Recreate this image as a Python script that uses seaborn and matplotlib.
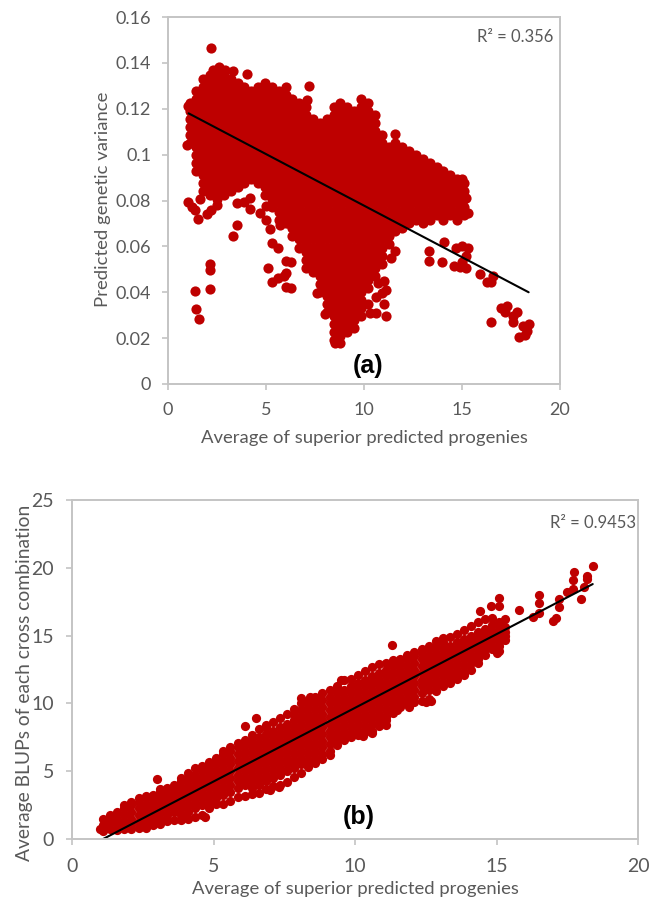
import pandas as pd
import matplotlib
matplotlib.use('Agg')
import matplotlib.pyplot as plt
import seaborn as sns

# panel (a): the cloud is read column by column off the picture
a_col_x = [1.1, 1.45, 1.8, 2.15, 2.5, 2.85, 3.2, 3.55, 3.9, 4.25, 4.6, 4.95, 5.3, 5.65, 6.0, 6.35, 6.7, 7.05, 7.4, 7.75,
           8.1, 8.45, 8.8, 9.15, 9.5, 9.85, 10.2, 10.55, 10.9, 11.25, 11.6, 11.95, 12.3, 12.65, 13.0, 13.35, 13.7, 14.05, 14.4, 14.75, 15.1]
a_col_y = [
    [.105, .1085, .112, .1155, .119, .1225],
    [.0927, .0962, .0997, .1032, .1067, .1102, .1137, .1172, .1207, .1242, .1277],
    [.084, .0875, .091, .0945, .098, .1015, .105, .1085, .112, .1155, .119, .1225, .126, .1295, .133],
    [.0822, .0857, .0892, .0927, .0962, .0997, .1032, .1067, .1102, .1137, .1172, .1207, .1242, .1277, .1312, .1347],
    [.0805, .084, .0875, .091, .0945, .098, .1015, .105, .1085, .112, .1155, .119, .1225, .126, .1295, .133, .1365],
    [.0822, .0857, .0892, .0927, .0962, .0997, .1032, .1067, .1102, .1137, .1172, .1207, .1242, .1277, .1312, .1347],
    [.084, .0875, .091, .0945, .098, .1015, .105, .1085, .112, .1155, .119, .1225, .126, .1295, .133],
    [.0857, .0892, .0927, .0962, .0997, .1032, .1067, .1102, .1137, .1172, .1207, .1242, .1277, .1312],
    [.0875, .091, .0945, .098, .1015, .105, .1085, .112, .1155, .119, .1225, .126, .1295],
    [.0892, .0927, .0962, .0997, .1032, .1067, .1102, .1137, .1172, .1207, .1242, .1277],
    [.0875, .091, .0945, .098, .1015, .105, .1085, .112, .1155, .119, .1225, .126, .1295],
    [.0822, .0857, .0892, .0927, .0962, .0997, .1032, .1067, .1102, .1137, .1172, .1207, .1242, .1277, .1312],
    [.077, .0805, .084, .0875, .091, .0945, .098, .1015, .105, .1085, .112, .1155, .119, .1225, .126, .1295],
    [.0717, .0752, .0787, .0822, .0857, .0892, .0927, .0962, .0997, .1032, .1067, .1102, .1137, .1172, .1207, .1242, .1277],
    [.07, .0735, .077, .0805, .084, .0875, .091, .0945, .098, .1015, .105, .1085, .112, .1155, .119, .1225, .126, .1295],
    [.0647, .0682, .0717, .0752, .0787, .0822, .0857, .0892, .0927, .0962, .0997, .1032, .1067, .1102, .1137, .1172, .1207, .1242],
    [.0595, .063, .0665, .07, .0735, .077, .0805, .084, .0875, .091, .0945, .098, .1015, .105, .1085, .112, .1155, .119, .1225],
    [.0507, .0542, .0577, .0612, .0647, .0682, .0717, .0752, .0787, .0822, .0857, .0892, .0927, .0962, .0997, .1032, .1067, .1102, .1137, .1172, .1207],
    [.049, .0525, .056, .0595, .063, .0665, .07, .0735, .077, .0805, .084, .0875, .091, .0945, .098, .1015, .105, .1085, .112, .1155],
    [.0402, .0437, .0472, .0507, .0542, .0577, .0612, .0647, .0682, .0717, .0752, .0787, .0822, .0857, .0892, .0927, .0962, .0997, .1032, .1067, .1102, .1137],
    [.0315, .035, .0385, .042, .0455, .049, .0525, .056, .0595, .063, .0665, .07, .0735, .077, .0805, .084, .0875, .091, .0945, .098, .1015, .105, .1085, .112, .1155],
    [.0192, .0227, .0262, .0297, .0332, .0367, .0402, .0437, .0472, .0507, .0542, .0577, .0612, .0647, .0682, .0717, .0752, .0787, .0822, .0857, .0892, .0927, .0962, .0997, .1032, .1067, .1102, .1137, .1172, .1207],
    [.021, .0245, .028, .0315, .035, .0385, .042, .0455, .049, .0525, .056, .0595, .063, .0665, .07, .0735, .077, .0805, .084, .0875, .091, .0945, .098, .1015, .105, .1085, .112, .1155, .119, .1225],
    [.0227, .0262, .0297, .0332, .0367, .0402, .0437, .0472, .0507, .0542, .0577, .0612, .0647, .0682, .0717, .0752, .0787, .0822, .0857, .0892, .0927, .0962, .0997, .1032, .1067, .1102, .1137, .1172, .1207],
    [.0245, .028, .0315, .035, .0385, .042, .0455, .049, .0525, .056, .0595, .063, .0665, .07, .0735, .077, .0805, .084, .0875, .091, .0945, .098, .1015, .105, .1085, .112, .1155, .119],
    [.0297, .0332, .0367, .0402, .0437, .0472, .0507, .0542, .0577, .0612, .0647, .0682, .0717, .0752, .0787, .0822, .0857, .0892, .0927, .0962, .0997, .1032, .1067, .1102, .1137, .1172, .1207, .1242],
    [.042, .0455, .049, .0525, .056, .0595, .063, .0665, .07, .0735, .077, .0805, .084, .0875, .091, .0945, .098, .1015, .105, .1085, .112, .1155, .119, .1225],
    [.0472, .0507, .0542, .0577, .0612, .0647, .0682, .0717, .0752, .0787, .0822, .0857, .0892, .0927, .0962, .0997, .1032, .1067, .1102, .1137, .1172],
    [.0525, .056, .0595, .063, .0665, .07, .0735, .077, .0805, .084, .0875, .091, .0945, .098, .1015, .105, .1085],
    [.0612, .0647, .0682, .0717, .0752, .0787, .0822, .0857, .0892, .0927, .0962, .0997, .1032],
    [.0665, .07, .0735, .077, .0805, .084, .0875, .091, .0945, .098, .1015, .105],
    [.0682, .0717, .0752, .0787, .0822, .0857, .0892, .0927, .0962, .0997, .1032],
    [.07, .0735, .077, .0805, .084, .0875, .091, .0945, .098, .1015],
    [.0717, .0752, .0787, .0822, .0857, .0892, .0927, .0962, .0997],
    [.07, .0735, .077, .0805, .084, .0875, .091, .0945, .098],
    [.0717, .0752, .0787, .0822, .0857, .0892, .0927, .0962],
    [.0735, .077, .0805, .084, .0875, .091, .0945],
    [.0717, .0752, .0787, .0822, .0857, .0892, .0927],
    [.0735, .077, .0805, .084, .0875, .091],
    [.0717, .0752, .0787, .0822, .0857, .0892],
    [.0735, .077, .0805, .084, .0875],
]
# scattered points around the edge of the cloud
a_out_x = [2.2, 2.3, 2.6, 2.9, 3.3, 4.03, 7.18, 7.1, 1.0, 0.97, 1.0, 1.2, 1.4, 1.55, 1.65, 2.0, 2.2, 2.5, 3.5, 3.9, 4.2, 4.2,
           3.5, 3.3, 2.15, 2.15, 2.15, 1.4, 1.45, 1.6, 5.1, 5.3, 5.6, 5.9, 6.0, 6.0, 6.3, 6.0, 6.3, 5.3, 5.6, 5.2, 5.0, 4.7, 5.0, 5.7, 6.1,
           7.6, 7.9, 8.0, 10.2, 10.3, 10.6, 11.1, 11.0, 10.6, 10.9, 11.1, 11.0, 10.7, 11.4, 11.6, 11.6, 8.5, 8.8,
           13.3, 13.3, 14.0, 14.1, 14.6, 14.7, 15.0, 15.3, 15.2, 15.0, 15.2, 14.9, 15.9, 16.3, 16.5, 16.6, 16.5,
           17.0, 17.2, 17.3, 17.6, 17.6, 17.8, 18.1, 18.4, 17.9, 18.2, 18.3, 15.0, 15.2, 15.3]
a_out_y = [.1465, .137, .138, .137, .1365, .1353, .130, .124, .121, .104, .0795, .077, .076, .072, .0805, .074, .076, .078, .0788, .0795, .081, .0765,
           .0695, .0645, .0525, .0495, .0415, .0405, .0325, .0285, .0505, .0445, .046, .047, .0485, .0425, .042, .0535, .053, .0615, .0595, .0675, .0715, .0745, .0775, .0695, .07,
           .0395, .042, .0305, .035, .031, .031, .0295, .035, .038, .0395, .041, .045, .044, .055, .058, .109, .018, .018,
           .058, .0535, .053, .062, .0515, .0595, .06, .0595, .056, .053, .0505, .051, .048, .0445, .0445, .047, .027,
           .033, .0315, .034, .0295, .027, .0315, .0255, .0262, .0205, .0215, .023, .0895, .081, .0745]
a_line_x = [1.05, 18.4]
a_line_y = [.118, .040]
a_yticks = [0, .02, .04, .06, .08, .1, .12, .14, .16]
a_ylabels = ['0', '0.02', '0.04', '0.06', '0.08', '0.1', '0.12', '0.14', '0.16']

# panel (b)
b_col_x = [1.1, 1.35, 1.6, 1.85, 2.1, 2.35, 2.6, 2.85, 3.1, 3.35, 3.6, 3.85, 4.1, 4.35, 4.6, 4.85, 5.1, 5.35, 5.6, 5.85,
           6.1, 6.35, 6.6, 6.85, 7.1, 7.35, 7.6, 7.85, 8.1, 8.35, 8.6, 8.85, 9.1, 9.35, 9.6, 9.85, 10.1, 10.35, 10.6, 10.85,
           11.1, 11.35, 11.6, 11.85, 12.1, 12.35, 12.6, 12.85, 13.1, 13.35, 13.6, 13.85, 14.1, 14.35, 14.6, 14.85, 15.1, 15.3]
b_col_y = [
    [.6, 1, 1.5],
    [.75, 1.25, 1.75],
    [.7, 1, 1.5, 2],
    [.75, 1.25, 1.75, 2.25, 2.5],
    [.75, 1, 1.5, 2, 2.5, 2.7],
    [.8, 1.25, 1.75, 2.25, 2.75, 3],
    [.8, 1, 1.5, 2, 2.5, 3, 3.2],
    [1, 1.25, 1.75, 2.25, 2.75, 3.25],
    [1.1, 1.5, 2, 2.5, 3, 3.5, 3.7],
    [1.3, 1.75, 2.25, 2.75, 3.25, 3.75],
    [1.4, 2, 2.5, 3, 3.5, 4],
    [1.4, 1.75, 2.25, 2.75, 3.25, 3.75, 4.25, 4.5],
    [1.5, 2, 2.5, 3, 3.5, 4, 4.5, 4.9],
    [1.6, 2.25, 2.75, 3.25, 3.75, 4.25, 4.75, 5.2],
    [1.8, 2.5, 3, 3.5, 4, 4.5, 5, 5.4],
    [2.3, 2.75, 3.25, 3.75, 4.25, 4.75, 5.25, 5.7],
    [2.6, 3, 3.5, 4, 4.5, 5, 5.5, 6],
    [2.6, 3.25, 3.75, 4.25, 4.75, 5.25, 5.75, 6.25, 6.5],
    [2.8, 3.5, 4, 4.5, 5, 5.5, 6, 6.5, 6.8],
    [3.1, 3.75, 4.25, 4.75, 5.25, 5.75, 6.25, 6.75, 7.1],
    [3.2, 4, 4.5, 5, 5.5, 6, 6.5, 7, 7.3],
    [3.3, 3.75, 4.25, 4.75, 5.25, 5.75, 6.25, 6.75, 7.25, 7.7],
    [3.4, 4, 4.5, 5, 5.5, 6, 6.5, 7, 7.5, 8.1],
    [3.7, 4.25, 4.75, 5.25, 5.75, 6.25, 6.75, 7.25, 7.75, 8.25, 8.4],
    [3.9, 4.5, 5, 5.5, 6, 6.5, 7, 7.5, 8, 8.6],
    [4, 4.75, 5.25, 5.75, 6.25, 6.75, 7.25, 7.75, 8.25, 8.9],
    [4.2, 5, 5.5, 6, 6.5, 7, 7.5, 8, 8.5, 9.2],
    [4.6, 5.25, 5.75, 6.25, 6.75, 7.25, 7.75, 8.25, 8.75, 9.25, 9.6],
    [4.9, 5.5, 6, 6.5, 7, 7.5, 8, 8.5, 9, 9.5, 10],
    [5.3, 5.75, 6.25, 6.75, 7.25, 7.75, 8.25, 8.75, 9.25, 9.75, 10.2],
    [5.6, 6, 6.5, 7, 7.5, 8, 8.5, 9, 9.5, 10, 10.5],
    [5.9, 6.25, 6.75, 7.25, 7.75, 8.25, 8.75, 9.25, 9.75, 10.25, 10.8],
    [6.2, 6.5, 7, 7.5, 8, 8.5, 9, 9.5, 10, 10.5, 11],
    [6.9, 7.25, 7.75, 8.25, 8.75, 9.25, 9.75, 10.25, 10.75, 11.3],
    [7.3, 7.5, 8, 8.5, 9, 9.5, 10, 10.5, 11, 11.7],
    [7.5, 7.75, 8.25, 8.75, 9.25, 9.75, 10.25, 10.75, 11.25, 11.8],
    [7.7, 8, 8.5, 9, 9.5, 10, 10.5, 11, 11.5, 12.1],
    [7.9, 8.25, 8.75, 9.25, 9.75, 10.25, 10.75, 11.25, 11.75, 12.4],
    [8, 8.5, 9, 9.5, 10, 10.5, 11, 11.5, 12, 12.7],
    [8.3, 8.75, 9.25, 9.75, 10.25, 10.75, 11.25, 11.75, 12.25, 12.9],
    [8.8, 9, 9.5, 10, 10.5, 11, 11.5, 12, 12.5, 13],
    [9.3, 9.75, 10.25, 10.75, 11.25, 11.75, 12.25, 12.75, 13.2],
    [9.7, 10, 10.5, 11, 11.5, 12, 12.5, 13, 13.3],
    [10, 10.25, 10.75, 11.25, 11.75, 12.25, 12.75, 13.25, 13.6],
    [10.1, 10.5, 11, 11.5, 12, 12.5, 13, 13.5, 13.8],
    [10.2, 10.75, 11.25, 11.75, 12.25, 12.75, 13.25, 13.75, 14],
    [10.3, 11, 11.5, 12, 12.5, 13, 13.5, 14, 14.2],
    [10.9, 11.25, 11.75, 12.25, 12.75, 13.25, 13.75, 14.25, 14.6],
    [11.3, 11.5, 12, 12.5, 13, 13.5, 14, 14.5, 14.8],
    [11.5, 11.75, 12.25, 12.75, 13.25, 13.75, 14.25, 14.9],
    [11.8, 12, 12.5, 13, 13.5, 14, 14.5, 15.1],
    [12.1, 12.25, 12.75, 13.25, 13.75, 14.25, 14.75, 15.4],
    [12.5, 13, 13.5, 14, 14.5, 15, 15.7],
    [13, 13.25, 13.75, 14.25, 14.75, 15.25, 16],
    [13.6, 14, 14.5, 15, 15.5, 16.2],
    [14, 14.25, 14.75, 15.25, 15.75, 16.3],
    [14.2, 14.5, 15, 15.5, 16],
    [14.7, 15.25, 15.6],
]
b_out_x = [1.0, 2.99, 11.3, 15.1, 15.1, 14.8, 14.4, 15.3, 15.8, 16.3, 16.5, 16.5, 16.5, 17.0, 17.1, 17.2, 17.2, 17.5, 17.7, 17.7, 17.75,
           18.0, 18.1, 18.2, 18.2, 18.4, 15.0, 15.1, 15.3, 4.7, 7.0, 7.3, 10.3, 10.6, 11.1, 11.5, 11.9, 12.5, 12.7, 6.5, 6.1, 8.1, 8.4, 9.5]
b_out_y = [.75, 4.39, 14.33, 17.8, 17.2, 17.2, 16.8, 16.2, 16.9, 16.4, 16.7, 17.4, 18.0, 16.1, 16.3, 17.1, 17.7, 18.2, 18.4, 19.1, 19.7,
           17.7, 18.6, 19.2, 19.4, 20.1, 13.7, 13.9, 15.0, 1.6, 3.6, 3.8, 7.6, 7.8, 8.4, 9.5, 9.7, 10.1, 10.2, 8.9, 8.3, 10.4, 10.5, 11.7]
b_line_x = [1.1, 18.4]
b_line_y = [0, 18.8]
b_yticks = [0, 5, 10, 15, 20, 25]

x_ticks = [0, 5, 10, 15, 20]
x_title = 'Average of superior predicted progenies'

RED = '#BE0000'
GREY = '#595959'
W, H = 651, 907

sns.set_theme(style='white')
plt.rcParams['font.family'] = ['Lato', 'DejaVu Sans']


def to_frame(col_x, col_y, out_x, out_y):
    xs, ys = [], []
    for x, col in zip(col_x, col_y):
        xs += [x] * len(col)
        ys += col
    return pd.DataFrame({'x': xs + out_x, 'y': ys + out_y})


def box(fig, left, top, right, bottom):
    return fig.add_axes([left / W, 1 - bottom / H, (right - left) / W, (bottom - top) / H])


def style_axes(ax, xmax, ymax, xpad, ypad, size):
    ax.set_xlim(0, xmax)
    ax.set_ylim(0, ymax)
    for s in ax.spines.values():
        s.set_color('#C4C4C4')
        s.set_linewidth(1.4)
    ax.tick_params(axis='both', length=4, width=1.2, color='#C4C4C4', labelcolor=GREY, labelsize=size,
                   left=True, bottom=True)
    ax.tick_params(axis='x', pad=xpad)
    ax.tick_params(axis='y', pad=ypad)
    ax.xaxis.label.set_color(GREY)
    ax.yaxis.label.set_color(GREY)


fig = plt.figure(figsize=(W / 100, H / 100), dpi=100)

# (a)
ax1 = box(fig, 168, 17, 560, 384)
df_a = to_frame(a_col_x, a_col_y, a_out_x, a_out_y)
sns.scatterplot(data=df_a, x='x', y='y', color=RED, s=54, linewidth=0, ax=ax1, clip_on=False)
sns.lineplot(x=a_line_x, y=a_line_y, color='black', linewidth=1.5, ax=ax1)
style_axes(ax1, 20, .16, 9, 8, 13)
ax1.set_xticks(x_ticks)
ax1.set_yticks(a_yticks)
ax1.set_yticklabels(a_ylabels)
ax1.set_xlabel(x_title, fontsize=13.3)
ax1.set_ylabel('Predicted genetic variance', fontsize=13.3)
ax1.xaxis.set_label_coords(.5, -.125)
ax1.yaxis.set_label_coords(-.145, .503)
ax1.text(.982, .946, 'R² = 0.356', transform=ax1.transAxes, ha='right', va='center', color=GREY, fontsize=12)
ax1.text(.511, .05, '(a)', transform=ax1.transAxes, ha='center', va='center', color='black', fontsize=18,
         fontweight='bold', family=['Liberation Sans'])

# (b)
ax2 = box(fig, 72, 500, 638, 839)
df_b = to_frame(b_col_x, b_col_y, b_out_x, b_out_y)
sns.scatterplot(data=df_b, x='x', y='y', color=RED, s=44, linewidth=0, ax=ax2, clip_on=False)
sns.lineplot(x=b_line_x, y=b_line_y, color='black', linewidth=1.5, ax=ax2)
style_axes(ax2, 20, 25, 10, 9, 14)
ax2.set_xticks(x_ticks)
ax2.set_yticks(b_yticks)
ax2.set_xlabel(x_title, fontsize=13.3)
ax2.set_ylabel('Average BLUPs of each cross combination', fontsize=13.9)
ax2.xaxis.set_label_coords(.5, -.125)
ax2.yaxis.set_label_coords(-.069, .46)
ax2.text(.997, .932, 'R² = 0.9453', transform=ax2.transAxes, ha='right', va='center', color=GREY, fontsize=12)
ax2.text(.507, .066, '(b)', transform=ax2.transAxes, ha='center', va='center', color='black', fontsize=18,
         fontweight='bold', family=['Liberation Sans'])

fig.savefig('out.png', dpi=100)
